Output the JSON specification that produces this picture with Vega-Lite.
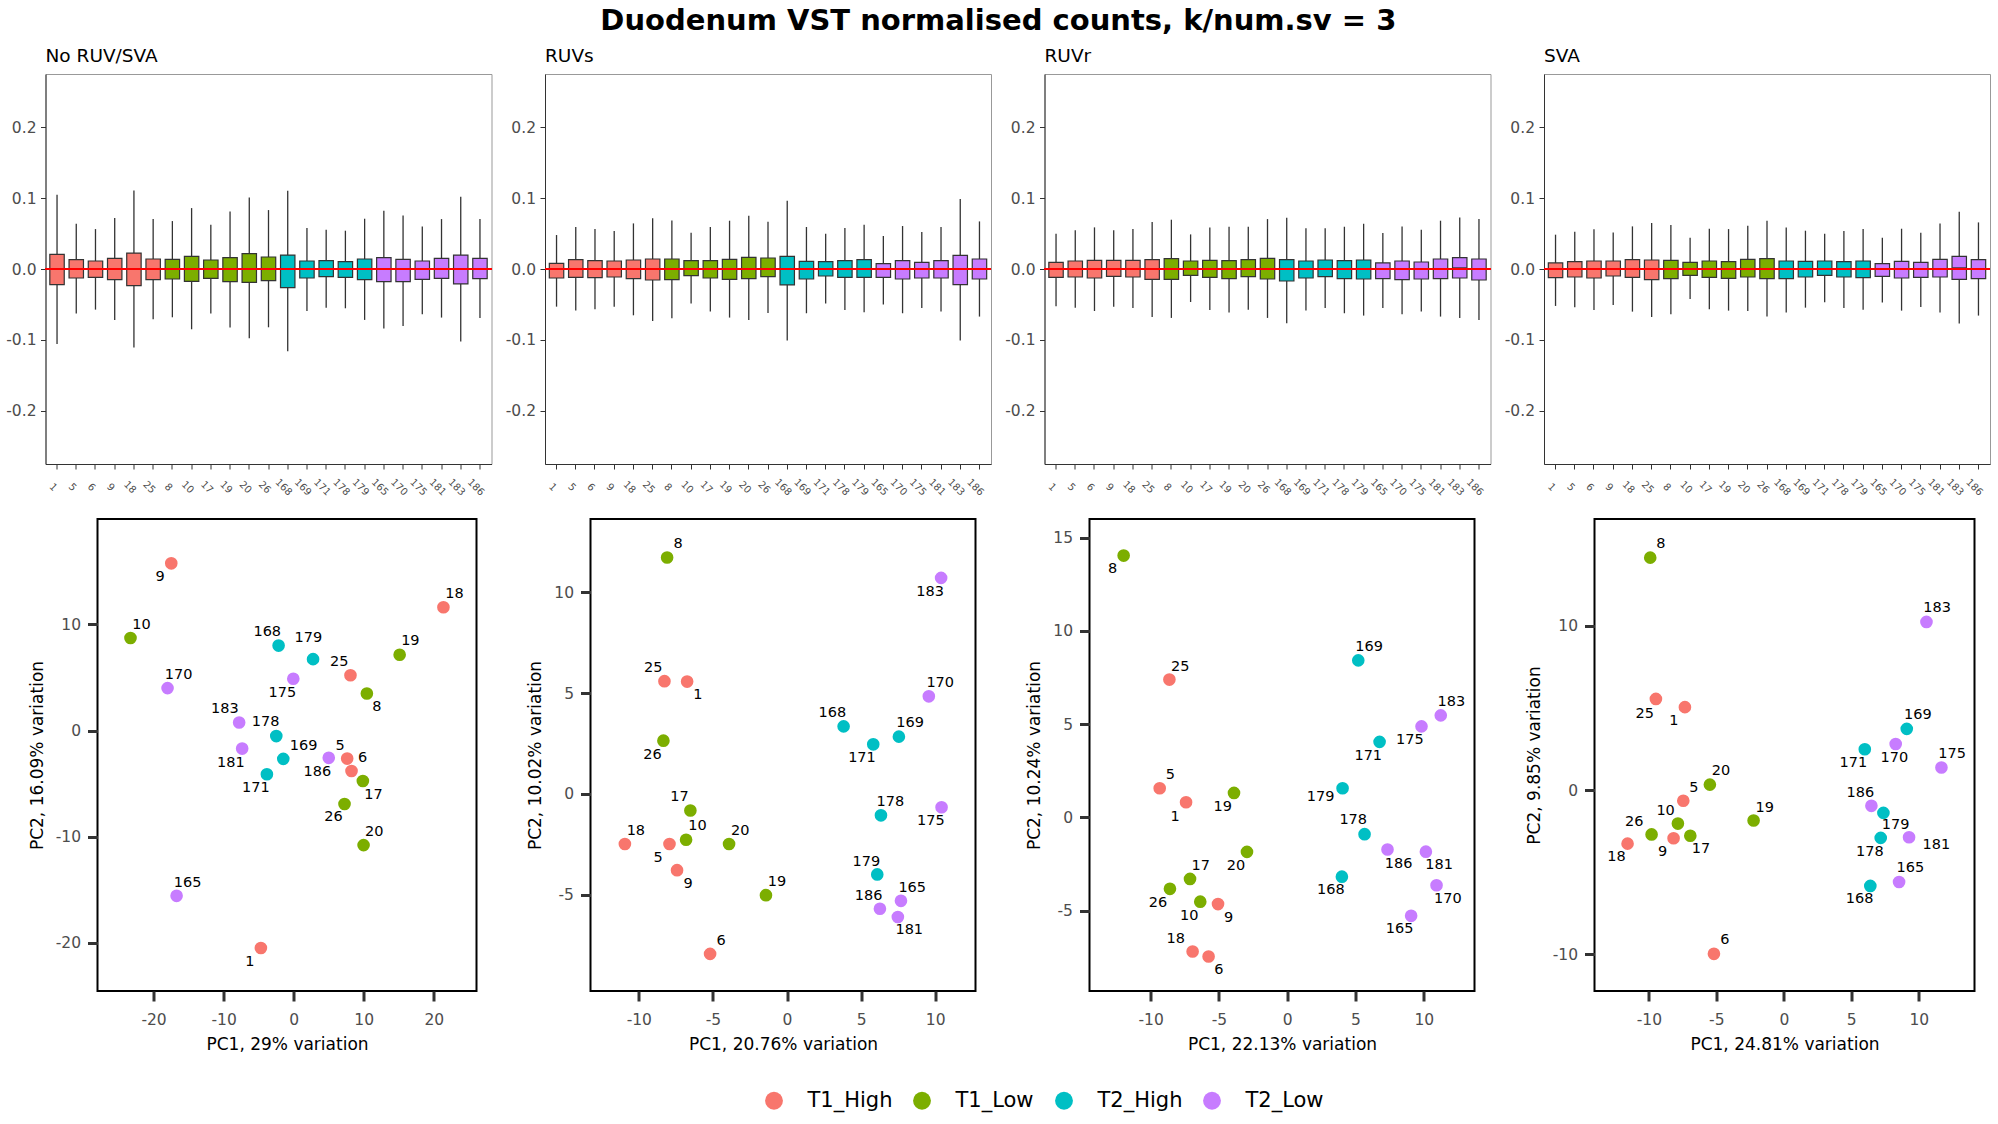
{
"$schema": "https://vega.github.io/schema/vega-lite/v6.json",
"background": "white",
"padding": {"left": 4.5, "top": 7, "right": 5, "bottom": 5},
"title": {"text": "Duodenum VST normalised counts, k/num.sv = 3", "fontSize": 29, "fontWeight": "bold", "font": "DejaVu Sans", "anchor": "middle", "color": "black", "offset": 10},
"datasets": {
"box": [
{"m":"No RUV/SVA","s":"1","g":"T1_High","lo":-0.1056,"q1":-0.0221,"md":0,"q3":0.0207,"hi":0.1047},
{"m":"No RUV/SVA","s":"5","g":"T1_High","lo":-0.0629,"q1":-0.0127,"md":0,"q3":0.0131,"hi":0.0638},
{"m":"No RUV/SVA","s":"6","g":"T1_High","lo":-0.0573,"q1":-0.0117,"md":0,"q3":0.0113,"hi":0.0563},
{"m":"No RUV/SVA","s":"9","g":"T1_High","lo":-0.0718,"q1":-0.0150,"md":0,"q3":0.0150,"hi":0.0718},
{"m":"No RUV/SVA","s":"18","g":"T1_High","lo":-0.1108,"q1":-0.0235,"md":0,"q3":0.0225,"hi":0.1108},
{"m":"No RUV/SVA","s":"25","g":"T1_High","lo":-0.0709,"q1":-0.0150,"md":0,"q3":0.0141,"hi":0.0704},
{"m":"No RUV/SVA","s":"8","g":"T1_Low","lo":-0.0681,"q1":-0.0141,"md":0,"q3":0.0136,"hi":0.0676},
{"m":"No RUV/SVA","s":"10","g":"T1_Low","lo":-0.0850,"q1":-0.0174,"md":0,"q3":0.0178,"hi":0.0859},
{"m":"No RUV/SVA","s":"17","g":"T1_Low","lo":-0.0629,"q1":-0.0131,"md":0,"q3":0.0127,"hi":0.0624},
{"m":"No RUV/SVA","s":"19","g":"T1_Low","lo":-0.0826,"q1":-0.0178,"md":0,"q3":0.0160,"hi":0.0812},
{"m":"No RUV/SVA","s":"20","g":"T1_Low","lo":-0.0977,"q1":-0.0188,"md":0,"q3":0.0216,"hi":0.1009},
{"m":"No RUV/SVA","s":"26","g":"T1_Low","lo":-0.0822,"q1":-0.0164,"md":0,"q3":0.0169,"hi":0.0831},
{"m":"No RUV/SVA","s":"168","g":"T2_High","lo":-0.1160,"q1":-0.0263,"md":0,"q3":0.0197,"hi":0.1103},
{"m":"No RUV/SVA","s":"169","g":"T2_High","lo":-0.0592,"q1":-0.0127,"md":0,"q3":0.0113,"hi":0.0577},
{"m":"No RUV/SVA","s":"171","g":"T2_High","lo":-0.0545,"q1":-0.0108,"md":0,"q3":0.0117,"hi":0.0554},
{"m":"No RUV/SVA","s":"178","g":"T2_High","lo":-0.0554,"q1":-0.0117,"md":0,"q3":0.0103,"hi":0.0540},
{"m":"No RUV/SVA","s":"179","g":"T2_High","lo":-0.0718,"q1":-0.0150,"md":0,"q3":0.0141,"hi":0.0709},
{"m":"No RUV/SVA","s":"165","g":"T2_Low","lo":-0.0840,"q1":-0.0178,"md":0,"q3":0.0160,"hi":0.0822},
{"m":"No RUV/SVA","s":"170","g":"T2_Low","lo":-0.0803,"q1":-0.0178,"md":0,"q3":0.0136,"hi":0.0756},
{"m":"No RUV/SVA","s":"175","g":"T2_Low","lo":-0.0638,"q1":-0.0146,"md":0,"q3":0.0113,"hi":0.0601},
{"m":"No RUV/SVA","s":"181","g":"T2_Low","lo":-0.0685,"q1":-0.0131,"md":0,"q3":0.0150,"hi":0.0704},
{"m":"No RUV/SVA","s":"183","g":"T2_Low","lo":-0.1023,"q1":-0.0211,"md":0,"q3":0.0197,"hi":0.1019},
{"m":"No RUV/SVA","s":"186","g":"T2_Low","lo":-0.0690,"q1":-0.0136,"md":0,"q3":0.0150,"hi":0.0704},
{"m":"RUVs","s":"1","g":"T1_High","lo":-0.0531,"q1":-0.0127,"md":0,"q3":0.0080,"hi":0.0479},
{"m":"RUVs","s":"5","g":"T1_High","lo":-0.0587,"q1":-0.0117,"md":0,"q3":0.0131,"hi":0.0592},
{"m":"RUVs","s":"6","g":"T1_High","lo":-0.0568,"q1":-0.0122,"md":0,"q3":0.0117,"hi":0.0563},
{"m":"RUVs","s":"9","g":"T1_High","lo":-0.0531,"q1":-0.0113,"md":0,"q3":0.0113,"hi":0.0535},
{"m":"RUVs","s":"18","g":"T1_High","lo":-0.0653,"q1":-0.0136,"md":0,"q3":0.0127,"hi":0.0643},
{"m":"RUVs","s":"25","g":"T1_High","lo":-0.0732,"q1":-0.0155,"md":0,"q3":0.0141,"hi":0.0714},
{"m":"RUVs","s":"8","g":"T1_Low","lo":-0.0695,"q1":-0.0150,"md":0,"q3":0.0141,"hi":0.0685},
{"m":"RUVs","s":"10","g":"T1_Low","lo":-0.0488,"q1":-0.0094,"md":0,"q3":0.0117,"hi":0.0512},
{"m":"RUVs","s":"17","g":"T1_Low","lo":-0.0601,"q1":-0.0127,"md":0,"q3":0.0117,"hi":0.0592},
{"m":"RUVs","s":"19","g":"T1_Low","lo":-0.0685,"q1":-0.0146,"md":0,"q3":0.0136,"hi":0.0681},
{"m":"RUVs","s":"20","g":"T1_Low","lo":-0.0718,"q1":-0.0136,"md":0,"q3":0.0164,"hi":0.0751},
{"m":"RUVs","s":"26","g":"T1_Low","lo":-0.0620,"q1":-0.0108,"md":0,"q3":0.0155,"hi":0.0667},
{"m":"RUVs","s":"168","g":"T2_High","lo":-0.1009,"q1":-0.0225,"md":0,"q3":0.0178,"hi":0.0962},
{"m":"RUVs","s":"169","g":"T2_High","lo":-0.0624,"q1":-0.0141,"md":0,"q3":0.0108,"hi":0.0592},
{"m":"RUVs","s":"171","g":"T2_High","lo":-0.0488,"q1":-0.0099,"md":0,"q3":0.0103,"hi":0.0498},
{"m":"RUVs","s":"178","g":"T2_High","lo":-0.0577,"q1":-0.0117,"md":0,"q3":0.0117,"hi":0.0577},
{"m":"RUVs","s":"179","g":"T2_High","lo":-0.0610,"q1":-0.0117,"md":0,"q3":0.0131,"hi":0.0624},
{"m":"RUVs","s":"165","g":"T2_Low","lo":-0.0502,"q1":-0.0117,"md":0,"q3":0.0075,"hi":0.0465},
{"m":"RUVs","s":"170","g":"T2_Low","lo":-0.0624,"q1":-0.0141,"md":0,"q3":0.0117,"hi":0.0606},
{"m":"RUVs","s":"175","g":"T2_Low","lo":-0.0549,"q1":-0.0127,"md":0,"q3":0.0094,"hi":0.0521},
{"m":"RUVs","s":"181","g":"T2_Low","lo":-0.0601,"q1":-0.0127,"md":0,"q3":0.0117,"hi":0.0592},
{"m":"RUVs","s":"183","g":"T2_Low","lo":-0.1009,"q1":-0.0221,"md":0,"q3":0.0192,"hi":0.0986},
{"m":"RUVs","s":"186","g":"T2_Low","lo":-0.0671,"q1":-0.0141,"md":0,"q3":0.0141,"hi":0.0671},
{"m":"RUVr","s":"1","g":"T1_High","lo":-0.0526,"q1":-0.0117,"md":0,"q3":0.0094,"hi":0.0498},
{"m":"RUVr","s":"5","g":"T1_High","lo":-0.0545,"q1":-0.0113,"md":0,"q3":0.0113,"hi":0.0545},
{"m":"RUVr","s":"6","g":"T1_High","lo":-0.0592,"q1":-0.0127,"md":0,"q3":0.0122,"hi":0.0587},
{"m":"RUVr","s":"9","g":"T1_High","lo":-0.0531,"q1":-0.0103,"md":0,"q3":0.0122,"hi":0.0545},
{"m":"RUVr","s":"18","g":"T1_High","lo":-0.0549,"q1":-0.0113,"md":0,"q3":0.0122,"hi":0.0563},
{"m":"RUVr","s":"25","g":"T1_High","lo":-0.0676,"q1":-0.0146,"md":0,"q3":0.0131,"hi":0.0662},
{"m":"RUVr","s":"8","g":"T1_Low","lo":-0.0690,"q1":-0.0146,"md":0,"q3":0.0146,"hi":0.0695},
{"m":"RUVr","s":"10","g":"T1_Low","lo":-0.0465,"q1":-0.0089,"md":0,"q3":0.0113,"hi":0.0488},
{"m":"RUVr","s":"17","g":"T1_Low","lo":-0.0577,"q1":-0.0117,"md":0,"q3":0.0122,"hi":0.0587},
{"m":"RUVr","s":"19","g":"T1_Low","lo":-0.0615,"q1":-0.0136,"md":0,"q3":0.0117,"hi":0.0596},
{"m":"RUVr","s":"20","g":"T1_Low","lo":-0.0573,"q1":-0.0108,"md":0,"q3":0.0131,"hi":0.0596},
{"m":"RUVr","s":"26","g":"T1_Low","lo":-0.0690,"q1":-0.0141,"md":0,"q3":0.0150,"hi":0.0704},
{"m":"RUVr","s":"168","g":"T2_High","lo":-0.0765,"q1":-0.0169,"md":0,"q3":0.0131,"hi":0.0723},
{"m":"RUVr","s":"169","g":"T2_High","lo":-0.0587,"q1":-0.0127,"md":0,"q3":0.0113,"hi":0.0573},
{"m":"RUVr","s":"171","g":"T2_High","lo":-0.0549,"q1":-0.0108,"md":0,"q3":0.0127,"hi":0.0573},
{"m":"RUVr","s":"178","g":"T2_High","lo":-0.0624,"q1":-0.0136,"md":0,"q3":0.0117,"hi":0.0596},
{"m":"RUVr","s":"179","g":"T2_High","lo":-0.0657,"q1":-0.0141,"md":0,"q3":0.0127,"hi":0.0638},
{"m":"RUVr","s":"165","g":"T2_Low","lo":-0.0549,"q1":-0.0136,"md":0,"q3":0.0085,"hi":0.0507},
{"m":"RUVr","s":"170","g":"T2_Low","lo":-0.0638,"q1":-0.0150,"md":0,"q3":0.0113,"hi":0.0601},
{"m":"RUVr","s":"175","g":"T2_Low","lo":-0.0601,"q1":-0.0141,"md":0,"q3":0.0099,"hi":0.0554},
{"m":"RUVr","s":"181","g":"T2_Low","lo":-0.0671,"q1":-0.0136,"md":0,"q3":0.0141,"hi":0.0681},
{"m":"RUVr","s":"183","g":"T2_Low","lo":-0.0690,"q1":-0.0127,"md":0.002,"q3":0.0160,"hi":0.0728},
{"m":"RUVr","s":"186","g":"T2_Low","lo":-0.0718,"q1":-0.0155,"md":0,"q3":0.0141,"hi":0.0704},
{"m":"SVA","s":"1","g":"T1_High","lo":-0.0521,"q1":-0.0122,"md":0,"q3":0.0085,"hi":0.0484},
{"m":"SVA","s":"5","g":"T1_High","lo":-0.0540,"q1":-0.0113,"md":0,"q3":0.0103,"hi":0.0526},
{"m":"SVA","s":"6","g":"T1_High","lo":-0.0577,"q1":-0.0127,"md":0,"q3":0.0113,"hi":0.0559},
{"m":"SVA","s":"9","g":"T1_High","lo":-0.0507,"q1":-0.0099,"md":0,"q3":0.0113,"hi":0.0516},
{"m":"SVA","s":"18","g":"T1_High","lo":-0.0601,"q1":-0.0117,"md":0,"q3":0.0131,"hi":0.0601},
{"m":"SVA","s":"25","g":"T1_High","lo":-0.0676,"q1":-0.0150,"md":0,"q3":0.0127,"hi":0.0648},
{"m":"SVA","s":"8","g":"T1_Low","lo":-0.0638,"q1":-0.0136,"md":0,"q3":0.0122,"hi":0.0620},
{"m":"SVA","s":"10","g":"T1_Low","lo":-0.0423,"q1":-0.0089,"md":0,"q3":0.0094,"hi":0.0441},
{"m":"SVA","s":"17","g":"T1_Low","lo":-0.0568,"q1":-0.0117,"md":0,"q3":0.0113,"hi":0.0568},
{"m":"SVA","s":"19","g":"T1_Low","lo":-0.0587,"q1":-0.0131,"md":0,"q3":0.0103,"hi":0.0563},
{"m":"SVA","s":"20","g":"T1_Low","lo":-0.0592,"q1":-0.0113,"md":0,"q3":0.0136,"hi":0.0610},
{"m":"SVA","s":"26","g":"T1_Low","lo":-0.0671,"q1":-0.0136,"md":0,"q3":0.0146,"hi":0.0681},
{"m":"SVA","s":"168","g":"T2_High","lo":-0.0615,"q1":-0.0136,"md":0,"q3":0.0113,"hi":0.0587},
{"m":"SVA","s":"169","g":"T2_High","lo":-0.0545,"q1":-0.0113,"md":0,"q3":0.0108,"hi":0.0540},
{"m":"SVA","s":"171","g":"T2_High","lo":-0.0469,"q1":-0.0089,"md":0,"q3":0.0113,"hi":0.0498},
{"m":"SVA","s":"178","g":"T2_High","lo":-0.0549,"q1":-0.0113,"md":0,"q3":0.0103,"hi":0.0535},
{"m":"SVA","s":"179","g":"T2_High","lo":-0.0573,"q1":-0.0122,"md":0,"q3":0.0113,"hi":0.0563},
{"m":"SVA","s":"165","g":"T2_Low","lo":-0.0474,"q1":-0.0103,"md":0,"q3":0.0075,"hi":0.0441},
{"m":"SVA","s":"170","g":"T2_Low","lo":-0.0587,"q1":-0.0127,"md":0,"q3":0.0108,"hi":0.0568},
{"m":"SVA","s":"175","g":"T2_Low","lo":-0.0535,"q1":-0.0117,"md":0,"q3":0.0094,"hi":0.0512},
{"m":"SVA","s":"181","g":"T2_Low","lo":-0.0615,"q1":-0.0113,"md":0,"q3":0.0136,"hi":0.0643},
{"m":"SVA","s":"183","g":"T2_Low","lo":-0.0770,"q1":-0.0146,"md":0.002,"q3":0.0178,"hi":0.0808},
{"m":"SVA","s":"186","g":"T2_Low","lo":-0.0657,"q1":-0.0136,"md":0,"q3":0.0131,"hi":0.0657}
],
"pca": [
{"m":"No RUV/SVA","s":"9","g":"T1_High","pc1":-17.47,"pc2":15.76,"lx":-19.05,"ly":14.48},
{"m":"No RUV/SVA","s":"18","g":"T1_High","pc1":21.38,"pc2":11.62,"lx":22.96,"ly":12.86},
{"m":"No RUV/SVA","s":"10","g":"T1_Low","pc1":-23.29,"pc2":8.72,"lx":-21.72,"ly":9.97},
{"m":"No RUV/SVA","s":"168","g":"T2_High","pc1":-2.15,"pc2":8.01,"lx":-3.77,"ly":9.29},
{"m":"No RUV/SVA","s":"179","g":"T2_High","pc1":2.77,"pc2":6.73,"lx":2.10,"ly":8.69},
{"m":"No RUV/SVA","s":"19","g":"T1_Low","pc1":15.13,"pc2":7.14,"lx":16.66,"ly":8.42},
{"m":"No RUV/SVA","s":"25","g":"T1_High","pc1":8.11,"pc2":5.21,"lx":6.49,"ly":6.43},
{"m":"No RUV/SVA","s":"175","g":"T2_Low","pc1":-0.05,"pc2":4.88,"lx":-1.62,"ly":3.53},
{"m":"No RUV/SVA","s":"170","g":"T2_Low","pc1":-18.0,"pc2":4.0,"lx":-16.42,"ly":5.28},
{"m":"No RUV/SVA","s":"8","g":"T1_Low","pc1":10.45,"pc2":3.49,"lx":11.89,"ly":2.21},
{"m":"No RUV/SVA","s":"183","g":"T2_Low","pc1":-7.78,"pc2":0.76,"lx":-9.83,"ly":2.01},
{"m":"No RUV/SVA","s":"178","g":"T2_High","pc1":-2.48,"pc2":-0.52,"lx":-4.01,"ly":0.76},
{"m":"No RUV/SVA","s":"181","g":"T2_Low","pc1":-7.35,"pc2":-1.70,"lx":-8.97,"ly":-3.04},
{"m":"No RUV/SVA","s":"169","g":"T2_High","pc1":-1.48,"pc2":-2.67,"lx":1.43,"ly":-1.42},
{"m":"No RUV/SVA","s":"5","g":"T1_High","pc1":7.64,"pc2":-2.64,"lx":6.63,"ly":-1.42},
{"m":"No RUV/SVA","s":"186","g":"T2_Low","pc1":5.01,"pc2":-2.57,"lx":3.39,"ly":-3.92},
{"m":"No RUV/SVA","s":"6","g":"T1_High","pc1":8.26,"pc2":-3.81,"lx":9.83,"ly":-2.60},
{"m":"No RUV/SVA","s":"171","g":"T2_High","pc1":-3.82,"pc2":-4.12,"lx":-5.39,"ly":-5.44},
{"m":"No RUV/SVA","s":"17","g":"T1_Low","pc1":9.88,"pc2":-4.76,"lx":11.41,"ly":-6.09},
{"m":"No RUV/SVA","s":"26","g":"T1_Low","pc1":7.26,"pc2":-6.92,"lx":5.68,"ly":-8.17},
{"m":"No RUV/SVA","s":"20","g":"T1_Low","pc1":9.98,"pc2":-10.80,"lx":11.5,"ly":-9.52},
{"m":"No RUV/SVA","s":"165","g":"T2_Low","pc1":-16.71,"pc2":-15.58,"lx":-15.13,"ly":-14.33},
{"m":"No RUV/SVA","s":"1","g":"T1_High","pc1":-4.68,"pc2":-20.50,"lx":-6.25,"ly":-21.82},
{"m":"RUVs","s":"8","g":"T1_Low","pc1":-8.09,"pc2":11.72,"lx":-7.35,"ly":12.39},
{"m":"RUVs","s":"183","g":"T2_Low","pc1":10.40,"pc2":10.71,"lx":9.66,"ly":10.02},
{"m":"RUVs","s":"25","g":"T1_High","pc1":-8.27,"pc2":5.59,"lx":-9.03,"ly":6.24},
{"m":"RUVs","s":"1","g":"T1_High","pc1":-6.74,"pc2":5.57,"lx":-6.02,"ly":4.88},
{"m":"RUVs","s":"170","g":"T2_Low","pc1":9.57,"pc2":4.84,"lx":10.34,"ly":5.51},
{"m":"RUVs","s":"168","g":"T2_High","pc1":3.82,"pc2":3.35,"lx":3.06,"ly":4.01},
{"m":"RUVs","s":"169","g":"T2_High","pc1":7.55,"pc2":2.84,"lx":8.31,"ly":3.51},
{"m":"RUVs","s":"26","g":"T1_Low","pc1":-8.34,"pc2":2.64,"lx":-9.08,"ly":1.95},
{"m":"RUVs","s":"171","g":"T2_High","pc1":5.82,"pc2":2.46,"lx":5.06,"ly":1.79},
{"m":"RUVs","s":"17","g":"T1_Low","pc1":-6.52,"pc2":-0.82,"lx":-7.26,"ly":-0.16},
{"m":"RUVs","s":"178","g":"T2_High","pc1":6.34,"pc2":-1.06,"lx":6.97,"ly":-0.41},
{"m":"RUVs","s":"175","g":"T2_Low","pc1":10.43,"pc2":-0.66,"lx":9.71,"ly":-1.33},
{"m":"RUVs","s":"10","g":"T1_Low","pc1":-6.81,"pc2":-2.27,"lx":-6.04,"ly":-1.61},
{"m":"RUVs","s":"18","g":"T1_High","pc1":-10.94,"pc2":-2.48,"lx":-10.20,"ly":-1.83},
{"m":"RUVs","s":"5","g":"T1_High","pc1":-7.93,"pc2":-2.48,"lx":-8.70,"ly":-3.17},
{"m":"RUVs","s":"20","g":"T1_Low","pc1":-3.91,"pc2":-2.48,"lx":-3.15,"ly":-1.83},
{"m":"RUVs","s":"9","g":"T1_High","pc1":-7.42,"pc2":-3.78,"lx":-6.67,"ly":-4.49},
{"m":"RUVs","s":"179","g":"T2_High","pc1":6.09,"pc2":-3.99,"lx":5.35,"ly":-3.35},
{"m":"RUVs","s":"19","g":"T1_Low","pc1":-1.42,"pc2":-5.02,"lx":-0.67,"ly":-4.36},
{"m":"RUVs","s":"165","g":"T2_Low","pc1":7.69,"pc2":-5.30,"lx":8.45,"ly":-4.66},
{"m":"RUVs","s":"186","g":"T2_Low","pc1":6.27,"pc2":-5.69,"lx":5.51,"ly":-5.05},
{"m":"RUVs","s":"181","g":"T2_Low","pc1":7.48,"pc2":-6.10,"lx":8.25,"ly":-6.77},
{"m":"RUVs","s":"6","g":"T1_High","pc1":-5.19,"pc2":-7.93,"lx":-4.45,"ly":-7.27},
{"m":"RUVr","s":"8","g":"T1_Low","pc1":-11.98,"pc2":14.04,"lx":-12.78,"ly":13.31},
{"m":"RUVr","s":"169","g":"T2_High","pc1":5.20,"pc2":8.42,"lx":6.0,"ly":9.15},
{"m":"RUVr","s":"25","g":"T1_High","pc1":-8.63,"pc2":7.39,"lx":-7.83,"ly":8.08},
{"m":"RUVr","s":"183","g":"T2_Low","pc1":11.24,"pc2":5.47,"lx":12.02,"ly":6.18},
{"m":"RUVr","s":"175","g":"T2_Low","pc1":9.83,"pc2":4.88,"lx":8.98,"ly":4.15},
{"m":"RUVr","s":"171","g":"T2_High","pc1":6.76,"pc2":4.05,"lx":5.93,"ly":3.31},
{"m":"RUVr","s":"5","g":"T1_High","pc1":-9.34,"pc2":1.56,"lx":-8.56,"ly":2.25},
{"m":"RUVr","s":"1","g":"T1_High","pc1":-7.41,"pc2":0.81,"lx":-8.22,"ly":0.04},
{"m":"RUVr","s":"19","g":"T1_Low","pc1":-3.90,"pc2":1.31,"lx":-4.73,"ly":0.58},
{"m":"RUVr","s":"179","g":"T2_High","pc1":4.05,"pc2":1.56,"lx":2.44,"ly":1.08},
{"m":"RUVr","s":"178","g":"T2_High","pc1":5.66,"pc2":-0.90,"lx":4.83,"ly":-0.15},
{"m":"RUVr","s":"20","g":"T1_Low","pc1":-2.95,"pc2":-1.85,"lx":-3.76,"ly":-2.60},
{"m":"RUVr","s":"186","g":"T2_Low","pc1":7.34,"pc2":-1.72,"lx":8.15,"ly":-2.49},
{"m":"RUVr","s":"181","g":"T2_Low","pc1":10.15,"pc2":-1.84,"lx":11.12,"ly":-2.56},
{"m":"RUVr","s":"17","g":"T1_Low","pc1":-7.12,"pc2":-3.30,"lx":-6.34,"ly":-2.59},
{"m":"RUVr","s":"168","g":"T2_High","pc1":4.0,"pc2":-3.18,"lx":3.20,"ly":-3.91},
{"m":"RUVr","s":"26","g":"T1_Low","pc1":-8.59,"pc2":-3.83,"lx":-9.46,"ly":-4.58},
{"m":"RUVr","s":"170","g":"T2_Low","pc1":10.93,"pc2":-3.64,"lx":11.76,"ly":-4.35},
{"m":"RUVr","s":"10","g":"T1_Low","pc1":-6.37,"pc2":-4.52,"lx":-7.17,"ly":-5.27},
{"m":"RUVr","s":"9","g":"T1_High","pc1":-5.07,"pc2":-4.65,"lx":-4.29,"ly":-5.39},
{"m":"RUVr","s":"165","g":"T2_Low","pc1":9.07,"pc2":-5.28,"lx":8.22,"ly":-6.0},
{"m":"RUVr","s":"18","g":"T1_High","pc1":-6.93,"pc2":-7.19,"lx":-8.17,"ly":-6.52},
{"m":"RUVr","s":"6","g":"T1_High","pc1":-5.76,"pc2":-7.46,"lx":-5.0,"ly":-8.16},
{"m":"SVA","s":"8","g":"T1_Low","pc1":-9.90,"pc2":14.13,"lx":-9.11,"ly":14.96},
{"m":"SVA","s":"183","g":"T2_Low","pc1":10.57,"pc2":10.22,"lx":11.36,"ly":11.07},
{"m":"SVA","s":"25","g":"T1_High","pc1":-9.48,"pc2":5.54,"lx":-10.30,"ly":4.65},
{"m":"SVA","s":"1","g":"T1_High","pc1":-7.33,"pc2":5.04,"lx":-8.15,"ly":4.20},
{"m":"SVA","s":"169","g":"T2_High","pc1":9.11,"pc2":3.72,"lx":9.93,"ly":4.54},
{"m":"SVA","s":"171","g":"T2_High","pc1":6.0,"pc2":2.48,"lx":5.16,"ly":1.63},
{"m":"SVA","s":"170","g":"T2_Low","pc1":8.29,"pc2":2.80,"lx":8.19,"ly":1.96},
{"m":"SVA","s":"175","g":"T2_Low","pc1":11.68,"pc2":1.37,"lx":12.47,"ly":2.17},
{"m":"SVA","s":"20","g":"T1_Low","pc1":-5.48,"pc2":0.33,"lx":-4.66,"ly":1.13},
{"m":"SVA","s":"5","g":"T1_High","pc1":-7.45,"pc2":-0.65,"lx":-6.66,"ly":0.13},
{"m":"SVA","s":"186","g":"T2_Low","pc1":6.49,"pc2":-0.96,"lx":5.67,"ly":-0.17},
{"m":"SVA","s":"179","g":"T2_High","pc1":7.38,"pc2":-1.39,"lx":8.29,"ly":-2.13},
{"m":"SVA","s":"19","g":"T1_Low","pc1":-2.24,"pc2":-1.85,"lx":-1.42,"ly":-1.07},
{"m":"SVA","s":"10","g":"T1_Low","pc1":-7.85,"pc2":-2.04,"lx":-8.76,"ly":-1.26},
{"m":"SVA","s":"26","g":"T1_Low","pc1":-9.80,"pc2":-2.70,"lx":-11.08,"ly":-1.96},
{"m":"SVA","s":"17","g":"T1_Low","pc1":-6.93,"pc2":-2.78,"lx":-6.14,"ly":-3.61},
{"m":"SVA","s":"9","g":"T1_High","pc1":-8.17,"pc2":-2.93,"lx":-8.99,"ly":-3.78},
{"m":"SVA","s":"178","g":"T2_High","pc1":7.18,"pc2":-2.91,"lx":6.37,"ly":-3.74},
{"m":"SVA","s":"181","g":"T2_Low","pc1":9.28,"pc2":-2.87,"lx":11.31,"ly":-3.35},
{"m":"SVA","s":"18","g":"T1_High","pc1":-11.58,"pc2":-3.26,"lx":-12.40,"ly":-4.09},
{"m":"SVA","s":"165","g":"T2_Low","pc1":8.54,"pc2":-5.59,"lx":9.38,"ly":-4.76},
{"m":"SVA","s":"168","g":"T2_High","pc1":6.41,"pc2":-5.83,"lx":5.62,"ly":-6.65},
{"m":"SVA","s":"6","g":"T1_High","pc1":-5.18,"pc2":-9.96,"lx":-4.37,"ly":-9.13}
],
"spacer": [{"a": 1}]
},
"spacing": 20,
"vconcat": [
{
"bounds": "flush",
"spacing": 53.5,
"hconcat": [
{
"width": 446, "height": 390,
"title": {"text": "No RUV/SVA", "anchor": "start", "frame": "group", "fontSize": 18.5, "fontWeight": "normal", "font": "DejaVu Sans", "color": "black", "offset": 9},
"view": {"stroke": "#999999", "strokeWidth": 1},
"data": {"name": "box"},
"transform": [{"filter": "datum.m === 'No RUV/SVA'"}],
"layer": [
{"mark": {"type": "rule", "color": "#333333", "strokeWidth": 1.3},
 "encoding": {
  "x": {"field": "s", "type": "ordinal", "sort": ["1","5","6","9","18","25","8","10","17","19","20","26","168","169","171","178","179","165","170","175","181","183","186"], "scale": {"paddingInner": 0.25, "paddingOuter": 0.225}, "axis": {"title": null, "labelAngle": 45, "labelAlign": "center", "labelBaseline": "middle", "labelFontSize": 10, "labelPadding": 18, "labelOffset": -4, "tickSize": 5, "labelColor": "#4d4d4d", "tickColor": "#333333", "domainColor": "#333333"}},
  "y": {"field": "lo", "type": "quantitative", "scale": {"domain": [-0.275, 0.275], "nice": false, "zero": false}, "axis": {"title": null, "values": [-0.2, -0.1, 0, 0.1, 0.2], "format": ".1f", "labelFontSize": 15.5, "labelColor": "#4d4d4d", "tickSize": 5, "tickColor": "#333333", "labelPadding": 4.5, "domainColor": "#333333", "grid": false}},
  "y2": {"field": "hi"}}},
{"mark": {"type": "bar", "stroke": "#333333", "strokeWidth": 1.2},
 "encoding": {
  "x": {"field": "s", "type": "ordinal", "sort": ["1","5","6","9","18","25","8","10","17","19","20","26","168","169","171","178","179","165","170","175","181","183","186"]},
  "y": {"field": "q1", "type": "quantitative"}, "y2": {"field": "q3"},
  "color": {"field": "g", "type": "nominal", "scale": {"domain": ["T1_High","T1_Low","T2_High","T2_Low"], "range": ["#F8766D","#7CAE00","#00BFC4","#C77CFF"]}, "legend": {"title": null, "orient": "none", "legendX": 718, "legendY": 1016, "direction": "horizontal", "symbolType": "circle"}}}},
{"mark": {"type": "tick", "color": "#333333", "thickness": 1.2, "size": 14},
 "encoding": {
  "x": {"field": "s", "type": "ordinal", "sort": ["1","5","6","9","18","25","8","10","17","19","20","26","168","169","171","178","179","165","170","175","181","183","186"]},
  "y": {"field": "md", "type": "quantitative"}}},
{"mark": {"type": "rule", "color": "#ff0000", "strokeWidth": 2},
 "encoding": {"y": {"datum": 0}}}
]
},
{
"width": 446, "height": 390,
"title": {"text": "RUVs", "anchor": "start", "frame": "group", "fontSize": 18.5, "fontWeight": "normal", "font": "DejaVu Sans", "color": "black", "offset": 9},
"view": {"stroke": "#999999", "strokeWidth": 1},
"data": {"name": "box"},
"transform": [{"filter": "datum.m === 'RUVs'"}],
"layer": [
{"mark": {"type": "rule", "color": "#333333", "strokeWidth": 1.3},
 "encoding": {
  "x": {"field": "s", "type": "ordinal", "sort": ["1","5","6","9","18","25","8","10","17","19","20","26","168","169","171","178","179","165","170","175","181","183","186"], "scale": {"paddingInner": 0.25, "paddingOuter": 0.225}, "axis": {"title": null, "labelAngle": 45, "labelAlign": "center", "labelBaseline": "middle", "labelFontSize": 10, "labelPadding": 18, "labelOffset": -4, "tickSize": 5, "labelColor": "#4d4d4d", "tickColor": "#333333", "domainColor": "#333333"}},
  "y": {"field": "lo", "type": "quantitative", "scale": {"domain": [-0.275, 0.275], "nice": false, "zero": false}, "axis": {"title": null, "values": [-0.2, -0.1, 0, 0.1, 0.2], "format": ".1f", "labelFontSize": 15.5, "labelColor": "#4d4d4d", "tickSize": 5, "tickColor": "#333333", "labelPadding": 4.5, "domainColor": "#333333", "grid": false}},
  "y2": {"field": "hi"}}},
{"mark": {"type": "bar", "stroke": "#333333", "strokeWidth": 1.2},
 "encoding": {
  "x": {"field": "s", "type": "ordinal", "sort": ["1","5","6","9","18","25","8","10","17","19","20","26","168","169","171","178","179","165","170","175","181","183","186"]},
  "y": {"field": "q1", "type": "quantitative"}, "y2": {"field": "q3"},
  "color": {"field": "g", "type": "nominal", "scale": {"domain": ["T1_High","T1_Low","T2_High","T2_Low"], "range": ["#F8766D","#7CAE00","#00BFC4","#C77CFF"]}, "legend": {"title": null, "orient": "none", "legendX": 718, "legendY": 1016, "direction": "horizontal", "symbolType": "circle"}}}},
{"mark": {"type": "tick", "color": "#333333", "thickness": 1.2, "size": 14},
 "encoding": {
  "x": {"field": "s", "type": "ordinal", "sort": ["1","5","6","9","18","25","8","10","17","19","20","26","168","169","171","178","179","165","170","175","181","183","186"]},
  "y": {"field": "md", "type": "quantitative"}}},
{"mark": {"type": "rule", "color": "#ff0000", "strokeWidth": 2},
 "encoding": {"y": {"datum": 0}}}
]
},
{
"width": 446, "height": 390,
"title": {"text": "RUVr", "anchor": "start", "frame": "group", "fontSize": 18.5, "fontWeight": "normal", "font": "DejaVu Sans", "color": "black", "offset": 9},
"view": {"stroke": "#999999", "strokeWidth": 1},
"data": {"name": "box"},
"transform": [{"filter": "datum.m === 'RUVr'"}],
"layer": [
{"mark": {"type": "rule", "color": "#333333", "strokeWidth": 1.3},
 "encoding": {
  "x": {"field": "s", "type": "ordinal", "sort": ["1","5","6","9","18","25","8","10","17","19","20","26","168","169","171","178","179","165","170","175","181","183","186"], "scale": {"paddingInner": 0.25, "paddingOuter": 0.225}, "axis": {"title": null, "labelAngle": 45, "labelAlign": "center", "labelBaseline": "middle", "labelFontSize": 10, "labelPadding": 18, "labelOffset": -4, "tickSize": 5, "labelColor": "#4d4d4d", "tickColor": "#333333", "domainColor": "#333333"}},
  "y": {"field": "lo", "type": "quantitative", "scale": {"domain": [-0.275, 0.275], "nice": false, "zero": false}, "axis": {"title": null, "values": [-0.2, -0.1, 0, 0.1, 0.2], "format": ".1f", "labelFontSize": 15.5, "labelColor": "#4d4d4d", "tickSize": 5, "tickColor": "#333333", "labelPadding": 4.5, "domainColor": "#333333", "grid": false}},
  "y2": {"field": "hi"}}},
{"mark": {"type": "bar", "stroke": "#333333", "strokeWidth": 1.2},
 "encoding": {
  "x": {"field": "s", "type": "ordinal", "sort": ["1","5","6","9","18","25","8","10","17","19","20","26","168","169","171","178","179","165","170","175","181","183","186"]},
  "y": {"field": "q1", "type": "quantitative"}, "y2": {"field": "q3"},
  "color": {"field": "g", "type": "nominal", "scale": {"domain": ["T1_High","T1_Low","T2_High","T2_Low"], "range": ["#F8766D","#7CAE00","#00BFC4","#C77CFF"]}, "legend": {"title": null, "orient": "none", "legendX": 718, "legendY": 1016, "direction": "horizontal", "symbolType": "circle"}}}},
{"mark": {"type": "tick", "color": "#333333", "thickness": 1.2, "size": 14},
 "encoding": {
  "x": {"field": "s", "type": "ordinal", "sort": ["1","5","6","9","18","25","8","10","17","19","20","26","168","169","171","178","179","165","170","175","181","183","186"]},
  "y": {"field": "md", "type": "quantitative"}}},
{"mark": {"type": "rule", "color": "#ff0000", "strokeWidth": 2},
 "encoding": {"y": {"datum": 0}}}
]
},
{
"width": 446, "height": 390,
"title": {"text": "SVA", "anchor": "start", "frame": "group", "fontSize": 18.5, "fontWeight": "normal", "font": "DejaVu Sans", "color": "black", "offset": 9},
"view": {"stroke": "#999999", "strokeWidth": 1},
"data": {"name": "box"},
"transform": [{"filter": "datum.m === 'SVA'"}],
"layer": [
{"mark": {"type": "rule", "color": "#333333", "strokeWidth": 1.3},
 "encoding": {
  "x": {"field": "s", "type": "ordinal", "sort": ["1","5","6","9","18","25","8","10","17","19","20","26","168","169","171","178","179","165","170","175","181","183","186"], "scale": {"paddingInner": 0.25, "paddingOuter": 0.225}, "axis": {"title": null, "labelAngle": 45, "labelAlign": "center", "labelBaseline": "middle", "labelFontSize": 10, "labelPadding": 18, "labelOffset": -4, "tickSize": 5, "labelColor": "#4d4d4d", "tickColor": "#333333", "domainColor": "#333333"}},
  "y": {"field": "lo", "type": "quantitative", "scale": {"domain": [-0.275, 0.275], "nice": false, "zero": false}, "axis": {"title": null, "values": [-0.2, -0.1, 0, 0.1, 0.2], "format": ".1f", "labelFontSize": 15.5, "labelColor": "#4d4d4d", "tickSize": 5, "tickColor": "#333333", "labelPadding": 4.5, "domainColor": "#333333", "grid": false}},
  "y2": {"field": "hi"}}},
{"mark": {"type": "bar", "stroke": "#333333", "strokeWidth": 1.2},
 "encoding": {
  "x": {"field": "s", "type": "ordinal", "sort": ["1","5","6","9","18","25","8","10","17","19","20","26","168","169","171","178","179","165","170","175","181","183","186"]},
  "y": {"field": "q1", "type": "quantitative"}, "y2": {"field": "q3"},
  "color": {"field": "g", "type": "nominal", "scale": {"domain": ["T1_High","T1_Low","T2_High","T2_Low"], "range": ["#F8766D","#7CAE00","#00BFC4","#C77CFF"]}, "legend": {"title": null, "orient": "none", "legendX": 718, "legendY": 1016, "direction": "horizontal", "symbolType": "circle"}}}},
{"mark": {"type": "tick", "color": "#333333", "thickness": 1.2, "size": 14},
 "encoding": {
  "x": {"field": "s", "type": "ordinal", "sort": ["1","5","6","9","18","25","8","10","17","19","20","26","168","169","171","178","179","165","170","175","181","183","186"]},
  "y": {"field": "md", "type": "quantitative"}}},
{"mark": {"type": "rule", "color": "#ff0000", "strokeWidth": 2},
 "encoding": {"y": {"datum": 0}}}
]
}
]
},
{
"bounds": "flush",
"spacing": 0,
"hconcat": [
{"width": 52, "height": 472, "data": {"name": "spacer"}, "mark": {"type": "point", "opacity": 0}, "view": {"stroke": null}},
{
"width": 379, "height": 472,
"view": {"stroke": "black", "strokeWidth": 2},
"data": {"name": "pca"},
"transform": [{"filter": "datum.m === 'No RUV/SVA'"}],
"layer": [
{"mark": {"type": "circle", "size": 160, "opacity": 1},
 "encoding": {
  "x": {"field": "pc1", "type": "quantitative", "title": "PC1, 29% variation", "scale": {"domain": [-28, 26.1], "nice": false, "zero": false}, "axis": {"values": [-20, -10, 0, 10, 20], "grid": false, "domain": false, "tickSize": 10, "tickWidth": 3, "tickColor": "#333333", "labelFontSize": 15.5, "labelColor": "#4d4d4d", "labelPadding": 11, "titleFontSize": 17, "titleFontWeight": "normal", "titleColor": "black", "titlePadding": 8.5, "labelFlush": false, "labelOverlap": false}},
  "y": {"field": "pc2", "type": "quantitative", "title": "PC2, 16.09% variation", "scale": {"domain": [-24.55, 19.94], "nice": false, "zero": false}, "axis": {"values": [-20, -10, 0, 10], "grid": false, "domain": false, "tickSize": 10, "tickWidth": 3, "tickColor": "#333333", "labelFontSize": 15.5, "labelColor": "#4d4d4d", "labelPadding": 7, "titleFontSize": 17, "titleFontWeight": "normal", "titleColor": "black", "titlePadding": 9, "labelFlush": false, "labelOverlap": false}},
  "color": {"field": "g", "type": "nominal", "scale": {"domain": ["T1_High","T1_Low","T2_High","T2_Low"], "range": ["#F8766D","#7CAE00","#00BFC4","#C77CFF"]}, "legend": {"title": null, "orient": "none", "legendX": 718, "legendY": 1016, "direction": "horizontal", "symbolType": "circle"}}}},
{"mark": {"type": "text", "fontSize": 14.5, "font": "DejaVu Sans", "color": "black"},
 "encoding": {
  "x": {"field": "lx", "type": "quantitative", "title": "PC1, 29% variation"},
  "y": {"field": "ly", "type": "quantitative", "title": "PC2, 16.09% variation"},
  "text": {"field": "s"}}}
]
},
{"width": 114, "height": 472, "data": {"name": "spacer"}, "mark": {"type": "point", "opacity": 0}, "view": {"stroke": null}},
{
"width": 385, "height": 472,
"view": {"stroke": "black", "strokeWidth": 2},
"data": {"name": "pca"},
"transform": [{"filter": "datum.m === 'RUVs'"}],
"layer": [
{"mark": {"type": "circle", "size": 160, "opacity": 1},
 "encoding": {
  "x": {"field": "pc1", "type": "quantitative", "title": "PC1, 20.76% variation", "scale": {"domain": [-13.26, 12.72], "nice": false, "zero": false}, "axis": {"values": [-10, -5, 0, 5, 10], "grid": false, "domain": false, "tickSize": 10, "tickWidth": 3, "tickColor": "#333333", "labelFontSize": 15.5, "labelColor": "#4d4d4d", "labelPadding": 11, "titleFontSize": 17, "titleFontWeight": "normal", "titleColor": "black", "titlePadding": 8.5, "labelFlush": false, "labelOverlap": false}},
  "y": {"field": "pc2", "type": "quantitative", "title": "PC2, 10.02% variation", "scale": {"domain": [-9.77, 13.63], "nice": false, "zero": false}, "axis": {"values": [-5, 0, 5, 10], "grid": false, "domain": false, "tickSize": 10, "tickWidth": 3, "tickColor": "#333333", "labelFontSize": 15.5, "labelColor": "#4d4d4d", "labelPadding": 7, "titleFontSize": 17, "titleFontWeight": "normal", "titleColor": "black", "titlePadding": 9, "labelFlush": false, "labelOverlap": false}},
  "color": {"field": "g", "type": "nominal", "scale": {"domain": ["T1_High","T1_Low","T2_High","T2_Low"], "range": ["#F8766D","#7CAE00","#00BFC4","#C77CFF"]}, "legend": {"title": null, "orient": "none", "legendX": 718, "legendY": 1016, "direction": "horizontal", "symbolType": "circle"}}}},
{"mark": {"type": "text", "fontSize": 14.5, "font": "DejaVu Sans", "color": "black"},
 "encoding": {
  "x": {"field": "lx", "type": "quantitative", "title": "PC1, 20.76% variation"},
  "y": {"field": "ly", "type": "quantitative", "title": "PC2, 10.02% variation"},
  "text": {"field": "s"}}}
]
},
{"width": 114, "height": 472, "data": {"name": "spacer"}, "mark": {"type": "point", "opacity": 0}, "view": {"stroke": null}},
{
"width": 385, "height": 472,
"view": {"stroke": "black", "strokeWidth": 2},
"data": {"name": "pca"},
"transform": [{"filter": "datum.m === 'RUVr'"}],
"layer": [
{"mark": {"type": "circle", "size": 160, "opacity": 1},
 "encoding": {
  "x": {"field": "pc1", "type": "quantitative", "title": "PC1, 22.13% variation", "scale": {"domain": [-14.48, 13.71], "nice": false, "zero": false}, "axis": {"values": [-10, -5, 0, 5, 10], "grid": false, "domain": false, "tickSize": 10, "tickWidth": 3, "tickColor": "#333333", "labelFontSize": 15.5, "labelColor": "#4d4d4d", "labelPadding": 11, "titleFontSize": 17, "titleFontWeight": "normal", "titleColor": "black", "titlePadding": 8.5, "labelFlush": false, "labelOverlap": false}},
  "y": {"field": "pc2", "type": "quantitative", "title": "PC2, 10.24% variation", "scale": {"domain": [-9.31, 16.0], "nice": false, "zero": false}, "axis": {"values": [-5, 0, 5, 10, 15], "grid": false, "domain": false, "tickSize": 10, "tickWidth": 3, "tickColor": "#333333", "labelFontSize": 15.5, "labelColor": "#4d4d4d", "labelPadding": 7, "titleFontSize": 17, "titleFontWeight": "normal", "titleColor": "black", "titlePadding": 9, "labelFlush": false, "labelOverlap": false}},
  "color": {"field": "g", "type": "nominal", "scale": {"domain": ["T1_High","T1_Low","T2_High","T2_Low"], "range": ["#F8766D","#7CAE00","#00BFC4","#C77CFF"]}, "legend": {"title": null, "orient": "none", "legendX": 718, "legendY": 1016, "direction": "horizontal", "symbolType": "circle"}}}},
{"mark": {"type": "text", "fontSize": 14.5, "font": "DejaVu Sans", "color": "black"},
 "encoding": {
  "x": {"field": "lx", "type": "quantitative", "title": "PC1, 22.13% variation"},
  "y": {"field": "ly", "type": "quantitative", "title": "PC2, 10.24% variation"},
  "text": {"field": "s"}}}
]
},
{"width": 120, "height": 472, "data": {"name": "spacer"}, "mark": {"type": "point", "opacity": 0}, "view": {"stroke": null}},
{
"width": 380, "height": 472,
"view": {"stroke": "black", "strokeWidth": 2},
"data": {"name": "pca"},
"transform": [{"filter": "datum.m === 'SVA'"}],
"layer": [
{"mark": {"type": "circle", "size": 160, "opacity": 1},
 "encoding": {
  "x": {"field": "pc1", "type": "quantitative", "title": "PC1, 24.81% variation", "scale": {"domain": [-14.03, 14.13], "nice": false, "zero": false}, "axis": {"values": [-10, -5, 0, 5, 10], "grid": false, "domain": false, "tickSize": 10, "tickWidth": 3, "tickColor": "#333333", "labelFontSize": 15.5, "labelColor": "#4d4d4d", "labelPadding": 11, "titleFontSize": 17, "titleFontWeight": "normal", "titleColor": "black", "titlePadding": 8.5, "labelFlush": false, "labelOverlap": false}},
  "y": {"field": "pc2", "type": "quantitative", "title": "PC2, 9.85% variation", "scale": {"domain": [-12.22, 16.48], "nice": false, "zero": false}, "axis": {"values": [-10, 0, 10], "grid": false, "domain": false, "tickSize": 10, "tickWidth": 3, "tickColor": "#333333", "labelFontSize": 15.5, "labelColor": "#4d4d4d", "labelPadding": 7, "titleFontSize": 17, "titleFontWeight": "normal", "titleColor": "black", "titlePadding": 9, "labelFlush": false, "labelOverlap": false}},
  "color": {"field": "g", "type": "nominal", "scale": {"domain": ["T1_High","T1_Low","T2_High","T2_Low"], "range": ["#F8766D","#7CAE00","#00BFC4","#C77CFF"]}, "legend": {"title": null, "orient": "none", "legendX": 718, "legendY": 1016, "direction": "horizontal", "symbolType": "circle"}}}},
{"mark": {"type": "text", "fontSize": 14.5, "font": "DejaVu Sans", "color": "black"},
 "encoding": {
  "x": {"field": "lx", "type": "quantitative", "title": "PC1, 24.81% variation"},
  "y": {"field": "ly", "type": "quantitative", "title": "PC2, 9.85% variation"},
  "text": {"field": "s"}}}
]
}
]
}
],
"config": {
 "font": "DejaVu Sans",
 "locale": {"number": {"decimal": ".", "thousands": ",", "grouping": [3], "currency": ["", ""], "minus": "-"}},
 "axis": {"labelFont": "DejaVu Sans", "titleFont": "DejaVu Sans"},
 "legend": {"symbolSize": 320, "symbolStrokeWidth": 0, "symbolOpacity": 1, "labelFontSize": 21, "labelFont": "DejaVu Sans", "labelColor": "black", "labelOffset": 23, "columnPadding": 19, "padding": 0, "symbolType": "circle"}
}
}
